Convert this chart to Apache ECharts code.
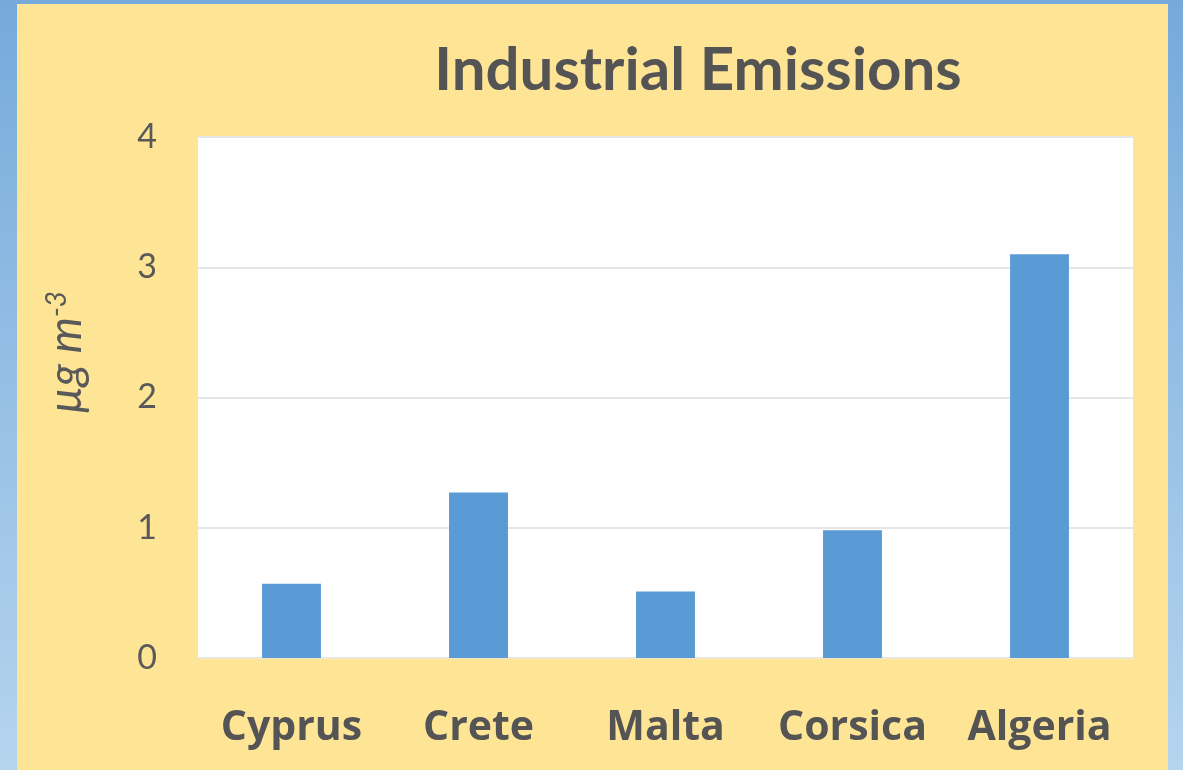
<!DOCTYPE html>
<html>
<head>
<meta charset="utf-8">
<script src="https://cdn.jsdelivr.net/npm/echarts@6/dist/echarts.min.js"></script>
<style>
html,body{margin:0;padding:0;}
#chart{width:1183px;height:770px;}
</style>
</head>
<body>
<div id="chart"></div>
<script>
const categories = ['Cyprus', 'Crete', 'Malta', 'Corsica', 'Algeria'];
const emissions = [0.57, 1.27, 0.51, 0.98, 3.10];
const yTicks = [0, 1, 2, 3, 4];

const chart = echarts.init(document.getElementById('chart'));
chart.setOption({
  backgroundColor: {
    type: 'linear', x: 0, y: 0, x2: 0, y2: 1,
    colorStops: [{offset: 0, color: '#76aadb'}, {offset: 1, color: '#b5d4ee'}]
  },
  graphic: [{
    type: 'rect', z: -10,
    shape: {x: 17, y: 4, width: 1151, height: 770},
    style: {fill: '#fee495'}
  }],
  title: {
    text: 'Industrial Emissions',
    left: 693, top: 36, textAlign: 'center',
    textStyle: {fontFamily: 'Lato', fontWeight: 'bold', fontSize: 60, color: '#545454'}
  },
  grid: {
    left: 198, top: 137, width: 935, height: 521,
    show: true, backgroundColor: '#ffffff', borderWidth: 0
  },
  xAxis: {
    type: 'category', data: categories,
    axisLine: {show: true, lineStyle: {color: '#f2e6cc', width: 1}},
    axisTick: {show: false},
    axisLabel: {
      interval: 0, hideOverlap: false,
      margin: 50, fontFamily: 'Open Sans', fontWeight: 'bold', fontSize: 41, color: '#545454'
    }
  },
  yAxis: {
    type: 'value', min: 0, max: 4, interval: 1,
    name: '{n|µg m}{s|-3}', nameLocation: 'middle', nameGap: 108, nameRotate: 90,
    nameTextStyle: {
      padding: [0, 0, 0, 90],
      rich: {
        n: {fontFamily: 'Lato', fontStyle: 'italic', fontSize: 46, color: '#595959'},
        s: {fontFamily: 'Lato', fontStyle: 'italic', fontSize: 28, color: '#595959', verticalAlign: 'top', padding: [0, 0, 19, 0]}
      }
    },
    axisLine: {show: false},
    axisTick: {show: false},
    splitLine: {lineStyle: {color: '#e6e6e6', width: 2}},
    axisLabel: {
      margin: 41, fontFamily: 'Lato', fontSize: 34, color: '#595959',
      formatter: v => yTicks.includes(v) ? String(v) : ''
    }
  },
  series: [{
    type: 'bar', data: emissions, barWidth: '31.5%',
    itemStyle: {color: '#5b9bd5'}
  }]
});
</script>
</body>
</html>
